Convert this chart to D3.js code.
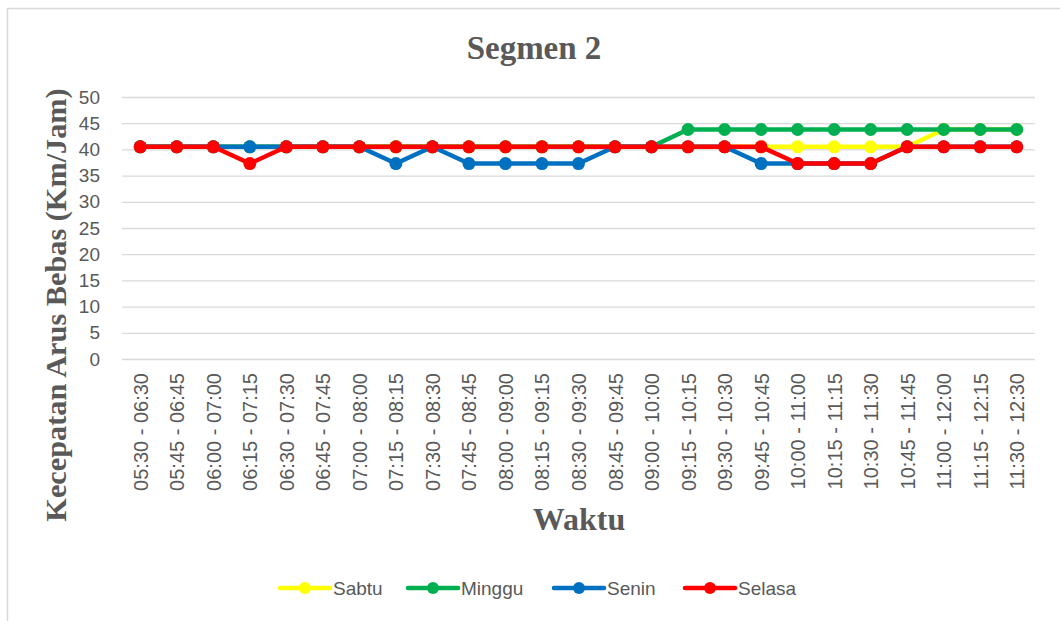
<!DOCTYPE html>
<html>
<head>
<meta charset="utf-8">
<script src="https://cdn.jsdelivr.net/npm/d3@7"></script>
<style>
  body { margin: 0; background: #fff; }
  svg { display: block; }
</style>
</head>
<body>
<svg id="chart" width="1060" height="621"></svg>
<script>
// categories (x axis)
const waktu = [
  '05:30 - 06:30', '05:45 - 06:45', '06:00 - 07:00', '06:15 - 07:15', '06:30 - 07:30',
  '06:45 - 07:45', '07:00 - 08:00', '07:15 - 08:15', '07:30 - 08:30', '07:45 - 08:45',
  '08:00 - 09:00', '08:15 - 09:15', '08:30 - 09:30', '08:45 - 09:45', '09:00 - 10:00',
  '09:15 - 10:15', '09:30 - 10:30', '09:45 - 10:45', '10:00 - 11:00', '10:15 - 11:15',
  '10:30 - 11:30', '10:45 - 11:45', '11:00 - 12:00', '11:15 - 12:15', '11:30 - 12:30'
];

// series values (km/jam)
const sabtu = [40.5, 40.5, 40.5, 40.5, 40.5, 40.5, 40.5, 40.5, 40.5, 40.5, 40.5, 40.5, 40.5,
  40.5, 40.5, 40.5, 40.5, 40.5, 40.5, 40.5, 40.5, 40.5, 43.8, 43.8, 43.8];
const minggu = [40.5, 40.5, 40.5, 40.5, 40.5, 40.5, 40.5, 40.5, 40.5, 40.5, 40.5, 40.5, 40.5,
  40.5, 40.5, 43.8, 43.8, 43.8, 43.8, 43.8, 43.8, 43.8, 43.8, 43.8, 43.8];
const senin = [40.5, 40.5, 40.5, 40.5, 40.5, 40.5, 40.5, 37.3, 40.5, 37.3, 37.3, 37.3, 37.3,
  40.5, 40.5, 40.5, 40.5, 37.3, 37.3, 37.3, 37.3, 40.5, 40.5, 40.5, 40.5];
const selasa = [40.5, 40.5, 40.5, 37.3, 40.5, 40.5, 40.5, 40.5, 40.5, 40.5, 40.5, 40.5, 40.5,
  40.5, 40.5, 40.5, 40.5, 40.5, 37.3, 37.3, 37.3, 40.5, 40.5, 40.5, 40.5];

const yTicks = [0, 5, 10, 15, 20, 25, 30, 35, 40, 45, 50];

const seriesList = [
  { name: 'Sabtu', values: sabtu, color: '#FFFF00' },
  { name: 'Minggu', values: minggu, color: '#00B050' },
  { name: 'Senin', values: senin, color: '#0070C0' },
  { name: 'Selasa', values: selasa, color: '#FF0000' }
];

const svg = d3.select('#chart');
const textColor = '#595959';
const labelFont = '"Liberation Sans", Arial, sans-serif';
const titleFont = '"Liberation Serif", "Times New Roman", serif';

// chart border
svg.append('rect')
  .attr('x', 7.5).attr('y', 8.5)
  .attr('width', 1070).attr('height', 640)
  .attr('fill', '#fff')
  .attr('stroke', '#d9d9d9')
  .attr('stroke-width', 1.5);

const plotLeft = 122, plotRight = 1035, plotTop = 97, plotBottom = 359;

const x = d3.scalePoint()
  .domain(waktu)
  .range([plotLeft, plotRight])
  .padding(0.5);

const y = d3.scaleLinear()
  .domain([0, 50])
  .range([plotBottom, plotTop]);

// gridlines + y labels
const yAxis = d3.axisLeft(y)
  .tickValues(yTicks)
  .tickSize(-(plotRight - plotLeft))
  .tickPadding(22);

const gy = svg.append('g')
  .attr('transform', 'translate(' + plotLeft + ',0)')
  .call(yAxis);
gy.select('.domain').remove();
gy.selectAll('.tick line')
  .attr('stroke', '#d9d9d9')
  .attr('stroke-width', 1.3);
gy.selectAll('.tick text')
  .attr('fill', textColor)
  .style('font-family', labelFont)
  .style('font-size', '19px');

// x labels
const xAxis = d3.axisBottom(x).tickSize(0);
const gx = svg.append('g')
  .attr('transform', 'translate(0,' + plotBottom + ')')
  .call(xAxis);
gx.select('.domain').remove();
gx.selectAll('.tick text')
  .attr('fill', textColor)
  .style('font-family', labelFont)
  .style('font-size', '20px')
  .attr('text-anchor', 'end')
  .attr('transform', 'rotate(-90)')
  .attr('x', -14)
  .attr('y', 0)
  .attr('dy', '0.35em');

// lines
const line = d3.line()
  .x((d, i) => x(waktu[i]))
  .y(d => y(d));

seriesList.forEach(s => {
  const g = svg.append('g').attr('class', 'series');
  g.append('path')
    .datum(s.values)
    .attr('fill', 'none')
    .attr('stroke', s.color)
    .attr('stroke-width', 4.5)
    .attr('stroke-linejoin', 'round')
    .attr('d', line);
  g.selectAll('circle')
    .data(s.values)
    .join('circle')
    .attr('cx', (d, i) => x(waktu[i]))
    .attr('cy', d => y(d))
    .attr('r', 6.5)
    .attr('fill', s.color);
});

// titles
svg.append('text')
  .attr('x', 534).attr('y', 59)
  .attr('text-anchor', 'middle')
  .attr('fill', textColor)
  .style('font-family', titleFont)
  .style('font-weight', 'bold')
  .style('font-size', '33px')
  .text('Segmen 2');

svg.append('text')
  .attr('x', 579).attr('y', 530)
  .attr('text-anchor', 'middle')
  .attr('fill', textColor)
  .style('font-family', titleFont)
  .style('font-weight', 'bold')
  .style('font-size', '32px')
  .text('Waktu');

svg.append('text')
  .attr('transform', 'translate(66,305) rotate(-90)')
  .attr('text-anchor', 'middle')
  .attr('fill', textColor)
  .style('font-family', titleFont)
  .style('font-weight', 'bold')
  .style('font-size', '30.3px')
  .text('Kecepatan Arus Bebas (Km/Jam)');

// legend
const legendX = [280, 408, 554, 685];
const legend = svg.append('g');
seriesList.forEach((s, i) => {
  const lg = legend.append('g').attr('transform', 'translate(' + legendX[i] + ',588)');
  lg.append('line')
    .attr('x1', 0).attr('x2', 50)
    .attr('stroke', s.color)
    .attr('stroke-width', 4.5)
    .attr('stroke-linecap', 'round');
  lg.append('circle')
    .attr('cx', 25).attr('r', 6)
    .attr('fill', s.color);
  lg.append('text')
    .attr('x', 53).attr('dy', '0.35em')
    .attr('fill', textColor)
    .style('font-family', labelFont)
    .style('font-size', '19px')
    .text(s.name);
});
</script>
</body>
</html>
